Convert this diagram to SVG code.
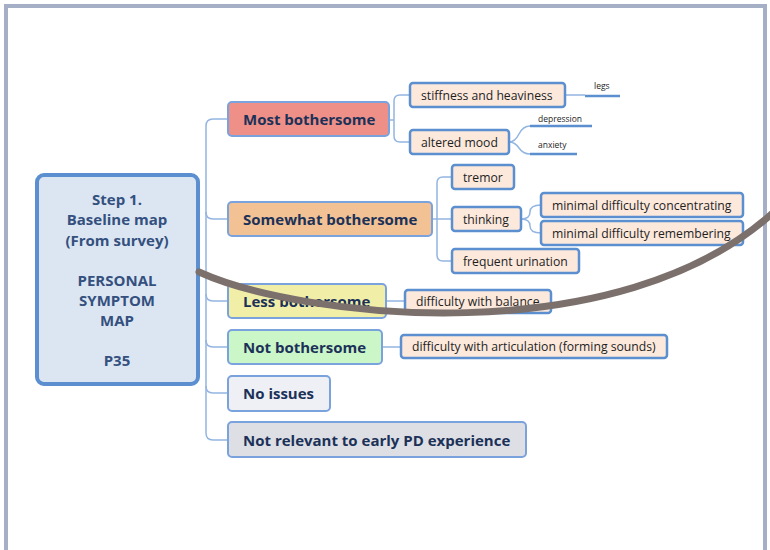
<svg xmlns="http://www.w3.org/2000/svg" width="770" height="550" viewBox="0 0 770 550">
  <style>
    .frame { fill: none; stroke: #a5b0c7; stroke-width: 4; }
    .tree { fill: none; stroke: #93b5e1; stroke-width: 1.5; }
    .leafline { fill: none; stroke: #5b8fd0; stroke-width: 2.5; }
    .root rect { fill: #dce6f3; stroke: #5b8fd0; stroke-width: 4; }
    .root text { font-family: "Open Sans", "Noto Sans", sans-serif; font-weight: bold; font-size: 15px; fill: #34507e; text-anchor: middle; }
    .cat rect { stroke: #7aa2dc; stroke-width: 2; }
    .cat text { font-family: "Open Sans", "Noto Sans", sans-serif; font-weight: bold; font-size: 15px; fill: #1c3158; }
    .sub rect { fill: #fce9dc; stroke: #5b8fd0; stroke-width: 2.5; }
    .sub text { font-family: "Open Sans", "Noto Sans", sans-serif; font-size: 12.2px; fill: #1e1e1e; }
    .leaf text { font-family: "Open Sans", "Noto Sans", sans-serif; font-size: 8.5px; fill: #1e1e1e; }
    .mark { fill: none; stroke: #7b706c; stroke-width: 7; stroke-linecap: round; }
  </style>

  <!-- page frame -->
  <path class="frame" d="M6,552 V6 H765 V552"/>

  <!-- connectors -->
  <g id="connectors">
    <!-- root trunk to categories -->
    <path class="tree" d="M206,126 Q206,119 213,119 H228"/>
    <path class="tree" d="M206,126 V433 Q206,440 213,440 H228"/>
    <path class="tree" d="M206,212 Q206,219 213,219 H228"/>
    <path class="tree" d="M206,294 Q206,301 213,301 H228"/>
    <path class="tree" d="M206,340 Q206,347 213,347 H228"/>
    <path class="tree" d="M206,386 Q206,393 213,393 H228"/>
    <!-- most bothersome branches -->
    <path class="tree" d="M389,120 H394"/>
    <path class="tree" d="M410,95 H400 Q394,95 394,101 V136 Q394,142 400,142 H410"/>
    <!-- somewhat bothersome branches -->
    <path class="tree" d="M432,219 H452"/>
    <path class="tree" d="M452,177 H443 Q437,177 437,183 V255 Q437,261 443,261 H452"/>
    <!-- thinking branches -->
    <path class="tree" d="M521,219 Q530,219 530,212 Q530,205 541,205"/>
    <path class="tree" d="M521,219 Q530,219 530,226 Q530,233 541,233"/>
    <!-- stiffness -> legs -->
    <path class="tree" d="M565,95 H585"/>
    <path class="leafline" d="M585,96 H620"/>
    <!-- altered mood -> depression / anxiety -->
    <path class="tree" d="M509,142 Q515,142 519,134 Q523,126 530,126"/>
    <path class="tree" d="M509,142 Q515,142 519,148 Q523,154 530,154"/>
    <path class="leafline" d="M530,126 H592"/>
    <path class="leafline" d="M530,154 H577"/>
    <!-- less / not bothersome -->
    <path class="tree" d="M386,301 H405"/>
    <path class="tree" d="M382,347 H401"/>
  </g>

  <!-- root node -->
  <g id="root" class="root">
    <rect x="37" y="175" width="161" height="209" rx="7"/>
    <text x="117" y="205">Step 1.</text>
    <text x="117" y="225">Baseline map</text>
    <text x="117" y="246">(From survey)</text>
    <text x="117" y="286">PERSONAL</text>
    <text x="117" y="306">SYMPTOM</text>
    <text x="117" y="326">MAP</text>
    <text x="117" y="366">P35</text>
  </g>

  <!-- categories -->
  <g id="cat-most" class="cat">
    <rect x="228" y="102" width="161" height="34" rx="4" fill="#ee9088"/>
    <text x="243" y="125">Most bothersome</text>
  </g>
  <g id="cat-somewhat" class="cat">
    <rect x="228" y="202" width="204" height="34" rx="4" fill="#f2c294"/>
    <text x="243" y="225">Somewhat bothersome</text>
  </g>
  <g id="cat-less" class="cat">
    <rect x="228" y="284" width="158" height="34" rx="4" fill="#f1eea8"/>
    <text x="243" y="307">Less bothersome</text>
  </g>
  <g id="cat-not" class="cat">
    <rect x="228" y="330" width="154" height="34" rx="4" fill="#cbf6c8"/>
    <text x="243" y="353">Not bothersome</text>
  </g>
  <g id="cat-none" class="cat">
    <rect x="228" y="376" width="102" height="35" rx="4" fill="#eef0f6"/>
    <text x="243" y="399">No issues</text>
  </g>
  <g id="cat-irrelevant" class="cat">
    <rect x="228" y="422" width="298" height="35" rx="4" fill="#dedfe4"/>
    <text x="243" y="446">Not relevant to early PD experience</text>
  </g>

  <!-- symptoms -->
  <g id="sub-stiffness" class="sub">
    <rect x="410" y="83" width="155" height="24" rx="3"/>
    <text x="421" y="99.5">stiffness and heaviness</text>
  </g>
  <g id="sub-mood" class="sub">
    <rect x="410" y="130" width="99" height="24" rx="3"/>
    <text x="421" y="146.5">altered mood</text>
  </g>
  <g id="sub-tremor" class="sub">
    <rect x="452" y="165" width="62" height="24" rx="3"/>
    <text x="463" y="181.5">tremor</text>
  </g>
  <g id="sub-thinking" class="sub">
    <rect x="452" y="207" width="69" height="24" rx="3"/>
    <text x="463" y="223.5">thinking</text>
  </g>
  <g id="sub-urination" class="sub">
    <rect x="452" y="249" width="127" height="24" rx="3"/>
    <text x="463" y="265.5">frequent urination</text>
  </g>
  <g id="sub-concentrating" class="sub">
    <rect x="541" y="193" width="202" height="24" rx="3"/>
    <text x="552" y="209.5">minimal difficulty concentrating</text>
  </g>
  <g id="sub-remembering" class="sub">
    <rect x="541" y="221" width="202" height="24" rx="3"/>
    <text x="552" y="237.5">minimal difficulty remembering</text>
  </g>
  <g id="sub-balance" class="sub">
    <rect x="405" y="290" width="146" height="23" rx="3"/>
    <text x="416" y="306">difficulty with balance</text>
  </g>
  <g id="sub-articulation" class="sub">
    <rect x="401" y="335" width="266" height="23" rx="3"/>
    <text x="412" y="351">difficulty with articulation (forming sounds)</text>
  </g>

  <!-- detail labels -->
  <g id="leaf-legs" class="leaf"><text x="594" y="89">legs</text></g>
  <g id="leaf-depression" class="leaf"><text x="538" y="122">depression</text></g>
  <g id="leaf-anxiety" class="leaf"><text x="538" y="148">anxiety</text></g>

  <!-- hand-drawn stroke across the map -->
  <path class="mark" d="M199,272 C300,318 620,355 776,210"/>
</svg>
